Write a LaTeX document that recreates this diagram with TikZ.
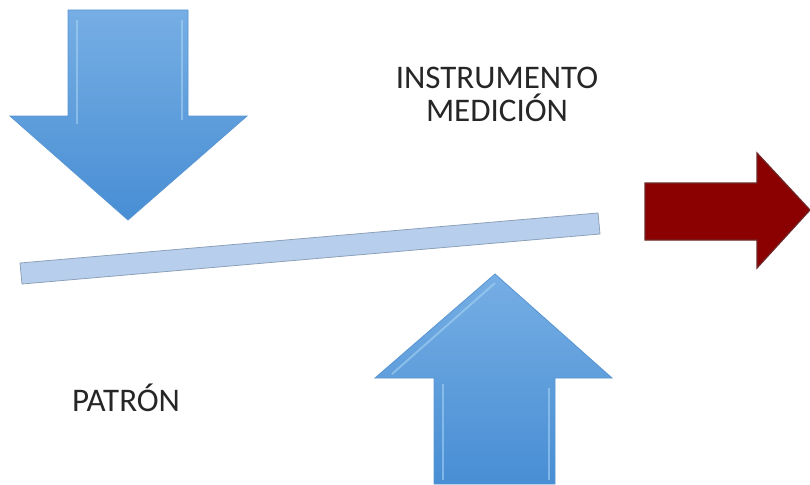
\documentclass[tikz,border=0pt]{standalone}
\usepackage{fontspec}
\setmainfont{Carlito}
\definecolor{bluetop}{RGB}{118,174,228}
\definecolor{bluebot}{RGB}{72,142,212}
\definecolor{blueedge}{RGB}{90,150,210}
\definecolor{bevel}{RGB}{170,215,245}
\definecolor{barfill}{RGB}{183,207,236}
\definecolor{baredge}{RGB}{140,160,185}
\definecolor{redfill}{RGB}{139,0,0}
\definecolor{rededge}{RGB}{110,40,40}
\tikzset{
  bluearrow/.style={top color=bluetop, bottom color=bluebot, draw=blueedge, line width=0.8pt, line join=miter},
  bevelline/.style={draw=bevel, line width=2pt, opacity=0.55},
  redarrow/.style={fill=redfill, draw=rededge, line width=1.2pt, line join=miter},
  barstyle/.style={fill=barfill, draw=baredge, line width=0.8pt},
  label/.style={font=\fontsize{33}{33}\selectfont, text=black!85, align=center, inner sep=0pt}
}
\begin{document}
\begin{tikzpicture}[x=1pt,y=-1pt]
\useasboundingbox (0,0) rectangle (810,484);
% down arrow
\path[bluearrow] (68,10) -- (188,10) -- (188,116) -- (247,116) -- (128,220) -- (10,116) -- (68,116) -- cycle;
\draw[bevelline] (77,20) -- (77,124);
\draw[bevelline] (182,20) -- (182,120);
% up arrow
\path[bluearrow] (495,274) -- (612,378) -- (555,378) -- (555,484) -- (434,484) -- (434,378) -- (375,378) -- cycle;
\draw[bevelline] (443,384) -- (443,480);
\draw[bevelline] (549,388) -- (549,480);
\draw[bevelline] (392,374) -- (495,283);
% bar
\path[barstyle] (20,263) -- (598,213) -- (600,234) -- (22,284) -- cycle;
% red arrow
\path[redarrow] (645,183) -- (757,183) -- (757,153) -- (810,210) -- (757,268) -- (757,240) -- (645,240) -- cycle;
% labels
\node[label] (instr) at (497,94) {INSTRUMENTO\\MEDICIÓN};
\node[label] (patron) at (126,398) {PATRÓN};
\end{tikzpicture}
\end{document}
